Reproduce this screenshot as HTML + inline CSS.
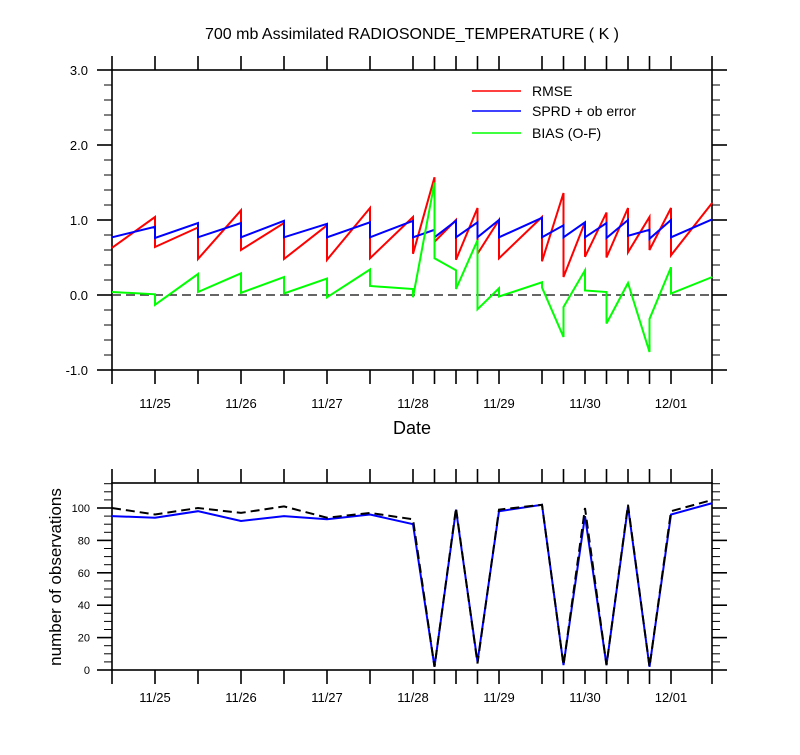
<!DOCTYPE html>
<html><head><meta charset="utf-8"><style>
body{margin:0;background:#fff;}
svg text{font-family:"Liberation Sans",sans-serif;fill:#000;}
</style></head><body>
<svg id="c" width="800" height="750" xmlns="http://www.w3.org/2000/svg"></svg>
<script>
// Times in days since 11/25 00Z
const times = [-0.5,0,0.5,1,1.5,2,2.5,3,3.25,3.5,3.75,4,4.5,4.75,5,5.25,5.5,5.75,6,6.48];
const dateLabels = ["11/25","11/26","11/27","11/28","11/29","11/30","12/01"];
const dateTicks = [0,1,2,3,4,5,6];
// per-interval start / end values (interval i = times[i]..times[i+1])
const rmseStart = [0.63,0.64,0.48,0.60,0.48,0.47,0.49,0.55,0.71,0.47,0.55,0.49,0.45,0.24,0.51,0.50,0.57,0.60,0.53];
const rmseEnd   = [1.04,0.90,1.13,0.96,0.93,1.16,1.04,1.57,1.00,1.16,1.00,1.04,1.36,0.97,1.10,1.16,1.04,1.16,1.23];
const sprdStart = [0.77,0.76,0.77,0.77,0.77,0.77,0.77,0.77,0.77,0.77,0.77,0.77,0.77,0.77,0.77,0.76,0.79,0.75,0.77];
const sprdEnd   = [0.91,0.96,0.96,0.99,0.95,0.97,0.99,0.87,0.99,0.97,1.00,1.03,0.93,0.97,0.96,1.00,0.87,1.00,1.01];
const biasStart = [0.04,-0.13,0.04,0.03,0.02,-0.03,0.12,-0.03,0.49,0.08,-0.19,-0.02,0.10,-0.16,0.06,-0.38,0.16,-0.32,0.02];
const biasEnd   = [0.01,0.28,0.29,0.24,0.22,0.34,0.08,1.50,0.33,0.73,0.09,0.17,-0.56,0.33,0.04,0.16,-0.76,0.37,0.24];
const obsUsed  = [95,94,98,92,95,93,96,90,2,99,5,98,102,3,95,3,101,2,96,103];
const obsTotal = [100,96,100,97,101,94,97,93,2,100,4,99,102,3,100,3,102,2,98,105];
const topYTicks = [-1,0,1,2,3];
const topYLabels = ["-1.0","0.0","1.0","2.0","3.0"];
const botYTicks = [0,20,40,60,80,100];

const svg = document.getElementById('c');
const NS = 'http://www.w3.org/2000/svg';
function mk(tag, attrs, parent){const e=document.createElementNS(NS,tag);for(const k in attrs)e.setAttribute(k,attrs[k]);(parent||svg).appendChild(e);return e;}
const X0=112, X1=712;
const x = d => 155 + 86*d;
const yTop = v => 295 - 75*v;
const yBot = v => 670 - 1.62*v;

function frame(top,bot,name){
  const r=mk('rect',{x:X0,y:top,width:X1-X0,height:bot-top,fill:'none',stroke:'#000','stroke-width':1.6});
  
  
  times.forEach(t=>{
    const xx=x(t); if(xx<X0+1||xx>X1-1) return;
    const a=mk('line',{x1:xx,x2:xx,y1:top-14,y2:top,stroke:'#000','stroke-width':1.6});
    
    
    const b=mk('line',{x1:xx,x2:xx,y1:bot,y2:bot+14,stroke:'#000','stroke-width':1.6});
    
    
  });
  [X0,X1].forEach(xx=>{
    mk('line',{x1:xx,x2:xx,y1:top-14,y2:top,stroke:'#000','stroke-width':1.6});
    mk('line',{x1:xx,x2:xx,y1:bot,y2:bot+14,stroke:'#000','stroke-width':1.6});
  });
}
function poly(pts,color,name,dash){
  const p=mk('polyline',{points:pts.map(q=>q[0].toFixed(1)+','+q[1].toFixed(1)).join(' '),fill:'none',stroke:color,'stroke-width':2,'stroke-linejoin':'miter'});
  if(dash) p.setAttribute('stroke-dasharray',dash);
  
  
}
function sawPts(s,e){const pts=[];for(let i=0;i<s.length;i++){pts.push([x(times[i]),yTop(s[i])]);pts.push([x(times[i+1]),yTop(e[i])]);}return pts;}

// Title
const t=mk('text',{x:412,y:39,'text-anchor':'middle','font-size':16});t.textContent='700 mb Assimilated RADIOSONDE_TEMPERATURE ( K )';



// Top panel
frame(70,370,'top-plot-frame');
for(let v=-1;v<=3.001;v+=0.2){
  const yy=yTop(v); const major=Math.abs(v-Math.round(v))<0.01;
  mk('line',{x1:X0-(major?15:8),x2:X0,y1:yy,y2:yy,stroke:'#000','stroke-width':major?1.6:1});
  mk('line',{x1:X1,x2:X1+(major?15:8),y1:yy,y2:yy,stroke:'#000','stroke-width':major?1.6:1});
}
topYTicks.forEach((v,i)=>{const l=mk('text',{x:88,y:yTop(v)+5,'text-anchor':'end','font-size':13});l.textContent=topYLabels[i];

});
dateTicks.forEach((d,i)=>{const l=mk('text',{x:x(d),y:408,'text-anchor':'middle','font-size':13});l.textContent=dateLabels[i];

});
const dl=mk('text',{x:412,y:434,'text-anchor':'middle','font-size':18});dl.textContent='Date';


const zl=mk('line',{x1:X0,x2:X1,y1:yTop(0),y2:yTop(0),stroke:'#333','stroke-width':1.6,'stroke-dasharray':'9,5'});


poly(sawPts(rmseStart,rmseEnd),'#ff0000','rmse-line');
poly(sawPts(sprdStart,sprdEnd),'#0000ff','sprd-line');
poly(sawPts(biasStart,biasEnd),'#00ff00','bias-line');
// legend
[['RMSE','#ff0000',91],['SPRD + ob error','#0000ff',111],['BIAS (O-F)','#00ff00',133]].forEach(a=>{
  const g=mk('g',{});
  
  
  mk('line',{x1:472,x2:521,y1:a[2],y2:a[2],stroke:a[1],'stroke-width':1.6},g);
  const tx=mk('text',{x:532,y:a[2]+5,'font-size':14},g);tx.textContent=a[0];
});

// Bottom panel
frame(483,670,'bottom-plot-frame');
for(let v=0;v<=115;v+=5){
  const yy=yBot(v); const major=v%20===0;
  mk('line',{x1:X0-(major?15:8),x2:X0,y1:yy,y2:yy,stroke:'#000','stroke-width':major?1.6:1});
  mk('line',{x1:X1,x2:X1+(major?15:8),y1:yy,y2:yy,stroke:'#000','stroke-width':major?1.6:1});
}
botYTicks.forEach(v=>{const l=mk('text',{x:90,y:yBot(v)+4,'text-anchor':'end','font-size':11});l.textContent=v;

});
dateTicks.forEach((d,i)=>{const l=mk('text',{x:x(d),y:702,'text-anchor':'middle','font-size':13});l.textContent=dateLabels[i];

});
const yl=mk('text',{x:0,y:0,'text-anchor':'middle','font-size':17,transform:'translate(61,577) rotate(-90)'});yl.textContent='number of observations';


poly(times.map((tt,i)=>[x(tt),yBot(obsUsed[i])]),'#0000ff','obs-used-line');
poly(times.map((tt,i)=>[x(tt),yBot(obsTotal[i])]),'#000000','obs-total-line','9,5');
</script>
</body></html>
